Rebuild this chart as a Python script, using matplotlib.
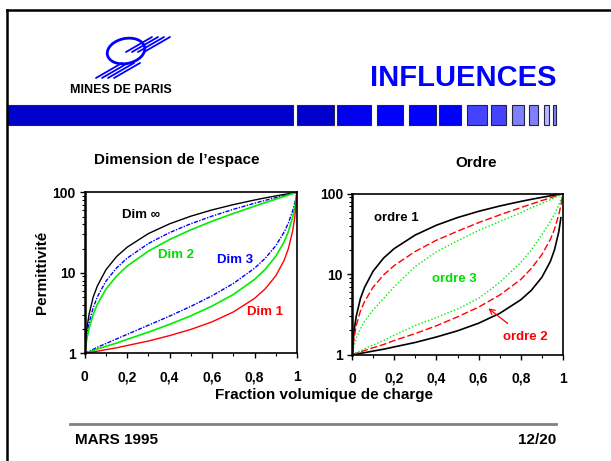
import matplotlib
matplotlib.use("Agg")
import matplotlib.pyplot as plt
from matplotlib.patches import Rectangle, Ellipse
from matplotlib.ticker import FixedLocator, NullFormatter

plt.rcParams['font.family'] = ['Liberation Sans', 'DejaVu Sans']
plt.rcParams['font.weight'] = 'bold'

# volume fraction of the filler
frac = [0, 0.01, 0.02, 0.04, 0.06, 0.1, 0.15, 0.2, 0.3, 0.4, 0.5,
        0.6, 0.7, 0.8, 0.85, 0.9, 0.94, 0.96, 0.98, 0.99, 1.0]

# left panel : bounds versus space dimension
dim_inf = [1, 2.0, 3.0, 5.0, 6.9, 10.9, 15.9, 20.8, 30.7, 40.6, 50.5,
           60.4, 70.3, 80.2, 85.2, 90.1, 94.1, 96.0, 98.0, 99.0, 100]
dim3_up = [1, 1.67, 2.34, 3.69, 5.06, 7.86, 11.5, 15.2, 23.1, 31.6, 40.7,
           50.6, 61.4, 73.1, 79.4, 85.9, 91.4, 94.2, 97.1, 98.5, 100]
dim3_lo = [1, 1.03, 1.06, 1.12, 1.19, 1.32, 1.51, 1.72, 2.23, 2.90, 3.83,
           5.18, 7.36, 11.4, 15.1, 21.7, 32.2, 42.0, 59.4, 74.7, 100]
dim2_up = [1, 1.50, 2.01, 3.04, 4.09, 6.26, 9.10, 12.1, 18.6, 25.9, 34.2,
           43.7, 54.5, 67.2, 74.4, 82.1, 88.9, 92.5, 96.2, 98.1, 100]
dim2_lo = [1, 1.02, 1.04, 1.08, 1.13, 1.22, 1.34, 1.49, 1.83, 2.29, 2.92,
           3.86, 5.37, 8.27, 11.0, 16.0, 24.4, 32.9, 49.8, 66.6, 100]
dim1 = [1, 1.01, 1.02, 1.04, 1.06, 1.11, 1.17, 1.25, 1.42, 1.66, 1.98,
        2.46, 3.26, 4.81, 6.31, 9.17, 14.4, 20.2, 33.6, 50.3, 100]

# right panel : bounds versus order
ord1_up = dim_inf
ord1_lo = dim1[:-1]
ord2_up = [1, 1.6, 2.3, 3.5, 4.6, 6.9, 9.8, 12.8, 19.2, 26.4, 34.2,
           43.7, 54.5, 67.2, 74.4, 82.1, 88.9, 92.5, 96.2, 98.1, 100]
ord2_lo = [1, 1.02, 1.04, 1.08, 1.13, 1.22, 1.34, 1.50, 1.83, 2.29, 2.95,
           3.9, 5.5, 8.6, 11.8, 17.5, 27.0, 36.5, 55.0, 72.0, 100]
ord3_up = [1, 1.3, 1.6, 2.1, 2.6, 3.6, 5.0, 7.0, 12.5, 19.0, 26.0,
           35.0, 45.0, 58.0, 67.0, 76.0, 84.0, 89.0, 94.0, 97.0, 100]
ord3_lo = [1, 1.03, 1.06, 1.12, 1.19, 1.32, 1.50, 1.75, 2.3, 2.9, 3.7,
           5.0, 7.9, 14.0, 20.0, 31.0, 45.0, 56.0, 73.0, 85.0, 100]

xticks = [0, 0.2, 0.4, 0.6, 0.8, 1]
xticklabels = ['0', '0,2', '0,4', '0,6', '0,8', '1']
yticks = [1, 10, 100]
yticklabels = ['1', '10', '100']

W, H = 611, 461
BLUE = '#0000ff'
fig = plt.figure(figsize=(W / 100, H / 100), dpi=100)

# slide decorations drawn in pixel coordinates
deco = fig.add_axes([0, 0, 1, 1])
deco.set_xlim(0, W)
deco.set_ylim(H, 0)
deco.axis('off')

deco.plot([7, 7], [H, 10.5], color='black', lw=1.8, solid_capstyle='projecting')
deco.plot([7, W], [10.5, 10.5], color='black', lw=1.8, solid_capstyle='projecting')

# logo : ring crossed by slanted strokes
deco.add_patch(Ellipse((126, 51), 38, 25, angle=-12, fill=False,
                       ec=BLUE, lw=2.0))
for k in range(4):
    x0 = 126 + k * 6
    deco.plot([x0, x0 + 26], [52, 52 - 15], color=BLUE, lw=1.3,
              solid_capstyle='round')
    x1 = 96 + k * 6
    deco.plot([x1, x1 + 26], [78, 78 - 15], color=BLUE, lw=1.3,
              solid_capstyle='round')
deco.text(120.5, 90, 'MINES DE PARIS', ha='center', va='center',
          fontsize=9, color='black')

deco.text(557, 78, 'INFLUENCES', ha='right', va='center',
          fontsize=21, color=BLUE)

# blue band with the fading squares
band = [(7, 293, '#0000cc'), (297, 334, '#0000cc'), (337, 371, '#0000ee'),
        (377, 403, BLUE), (409, 436, BLUE), (439, 461, BLUE),
        (467, 487, '#4444ff'), (491, 506, '#4444ff'), (512, 524, '#8080ff'),
        (529, 538, '#8080ff'), (544, 549, '#b8b8ff'), (553, 556, '#8080ff')]
for x0, x1, c in band:
    deco.add_patch(Rectangle((x0, 105), x1 - x0, 20, fc=c,
                             ec='#222244', lw=0.8))

deco.plot([70, 556], [424, 424], color='#808080', lw=2)
deco.text(75, 440, 'MARS 1995', ha='left', va='center', fontsize=11)
deco.text(556, 440, '12/20', ha='right', va='center', fontsize=11)

deco.text(177, 160, 'Dimension de l\u2019espace', ha='center', va='center',
          fontsize=11)
deco.text(476, 163, 'Ordre', ha='center', va='center', fontsize=11)
deco.text(324, 395, 'Fraction volumique de charge', ha='center',
          va='center', fontsize=11)
deco.text(42, 272, 'Permittivit\u00e9', ha='center', va='center',
          rotation=90, fontsize=11)


def panel(rect):
    x0, y0, x1, y1 = rect
    ax = fig.add_axes([x0 / W, 1 - y1 / H, (x1 - x0) / W, (y1 - y0) / H])
    ax.set_yscale('log')
    ax.set_xlim(0, 1)
    ax.set_ylim(1, 100)
    ax.set_xticks(xticks)
    ax.set_xticklabels(xticklabels)
    ax.xaxis.set_minor_locator(FixedLocator([0.1, 0.3, 0.5, 0.7, 0.9]))
    ax.set_yticks(yticks)
    ax.set_yticklabels(yticklabels)
    ax.yaxis.set_minor_locator(FixedLocator(
        [m * d for d in (1, 10) for m in range(2, 10)]))
    ax.yaxis.set_minor_formatter(NullFormatter())
    ax.tick_params(which='major', length=3.6, width=1, labelsize=10,
                   direction='out')
    ax.tick_params(axis='x', which='major', pad=8.6)
    ax.tick_params(axis='y', which='major', pad=2.9)
    ax.tick_params(which='minor', length=2.2, width=0.8, direction='out')
    for t in ax.get_xticklabels() + ax.get_yticklabels():
        t.set_fontweight('bold')
    for s in ax.spines.values():
        s.set_linewidth(1.2)
    ax.spines['left'].set_linewidth(1.8)
    return ax


ax1 = panel((84.7, 192.3, 297, 353.3))
ax1.plot(frac, dim_inf, color='black', lw=1)
ax1.plot(frac, dim3_up, color=BLUE, lw=1, ls=(0, (3, 1, 1, 1)))
ax1.plot(frac, dim3_lo, color=BLUE, lw=1, ls=(0, (3, 1, 1, 1)))
ax1.plot(frac, dim2_up, color='#00ee00', lw=1.2)
ax1.plot(frac, dim2_lo, color='#00ee00', lw=1.2)
ax1.plot(frac, dim1, color='#ff0000', lw=1)
ax1.text(0.265, 52, 'Dim \u221e', color='black', fontsize=9.5,
         ha='center', va='center')
ax1.text(0.43, 16.6, 'Dim 2', color='#00dd00', fontsize=9.5,
         ha='center', va='center')
ax1.text(0.708, 14.4, 'Dim 3', color=BLUE, fontsize=9.5,
         ha='center', va='center')
ax1.text(0.849, 3.29, 'Dim 1', color='#ff0000', fontsize=9.5,
         ha='center', va='center')

ax2 = panel((352, 193.7, 563, 354.7))
ax2.plot(frac, ord1_up, color='black', lw=1.2)
ax2.plot(frac[:-1], ord1_lo, color='black', lw=1.2)
ax2.plot(frac, ord2_up, color='#ff0000', lw=1, ls=(0, (5, 2)))
ax2.plot(frac, ord2_lo, color='#ff0000', lw=1, ls=(0, (5, 2)))
ax2.plot(frac, ord3_up, color='#00ee00', lw=1, ls=(0, (1, 1.5)))
ax2.plot(frac, ord3_lo, color='#00ee00', lw=1, ls=(0, (1, 1.5)))
ax2.text(0.212, 49.5, 'ordre 1', color='black', fontsize=9.5,
         ha='center', va='center')
ax2.text(0.487, 8.6, 'ordre 3', color='#00dd00', fontsize=9.5,
         ha='center', va='center')
ax2.annotate('ordre 2', xy=(0.646, 3.77), xytext=(0.822, 1.64),
             color='#ff0000', fontsize=9.5, ha='center', va='center',
             arrowprops=dict(arrowstyle='->', color='#ff0000', lw=0.9,
                             shrinkA=6, shrinkB=0))

fig.savefig('out.png', dpi=100)
